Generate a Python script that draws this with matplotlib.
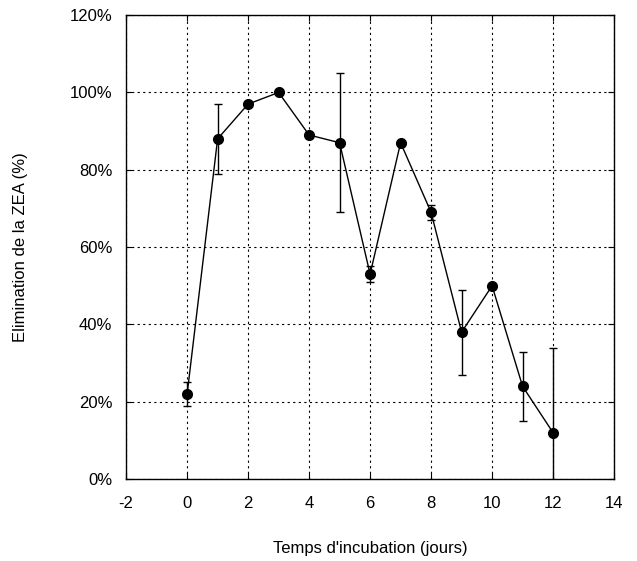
import matplotlib
matplotlib.use("Agg")
import matplotlib.pyplot as plt
from matplotlib.ticker import FuncFormatter

days = [0, 1, 2, 3, 4, 5, 6, 7, 8, 9, 10, 11, 12]
elimination = [22, 88, 97, 100, 89, 87, 53, 87, 69, 38, 50, 24, 12]
err = [3, 9, 0, 0, 0, 18, 2, 0, 2, 11, 0, 9, 22]

plt.rcParams['font.family'] = ['Liberation Sans', 'DejaVu Sans']
plt.rcParams['axes.unicode_minus'] = False
fig = plt.figure(figsize=(6.37, 5.61), dpi=100)
ax = fig.add_axes([0.198, 0.146, 0.766, 0.827])

ax.errorbar(days, elimination, yerr=err, fmt='-o', color='black', ms=7,
            lw=1, elinewidth=1, capsize=3, capthick=1, zorder=3)

ax.set_xlim(-2, 14)
ax.set_ylim(0, 120)
ax.set_xticks(range(-2, 15, 2))
ax.set_yticks(range(0, 121, 20))
ax.xaxis.set_major_formatter(FuncFormatter(lambda v, p: f"{int(v)}"))
ax.yaxis.set_major_formatter(FuncFormatter(lambda v, p: f"{int(v)}%"))
ax.grid(True, color='black', linestyle=(0, (2, 3)), linewidth=0.8)
ax.tick_params(direction='in', top=True, right=True, labelsize=12, length=4)
ax.tick_params(axis='y', pad=10)
ax.tick_params(axis='x', pad=12)
for s in ax.spines.values():
    s.set_linewidth(1)
ax.set_xlabel("Temps d'incubation (jours)", fontsize=12, labelpad=22)
ax.set_ylabel("Elimination de la ZEA (%)", fontsize=12, labelpad=30)

fig.savefig("out.png", dpi=100)
